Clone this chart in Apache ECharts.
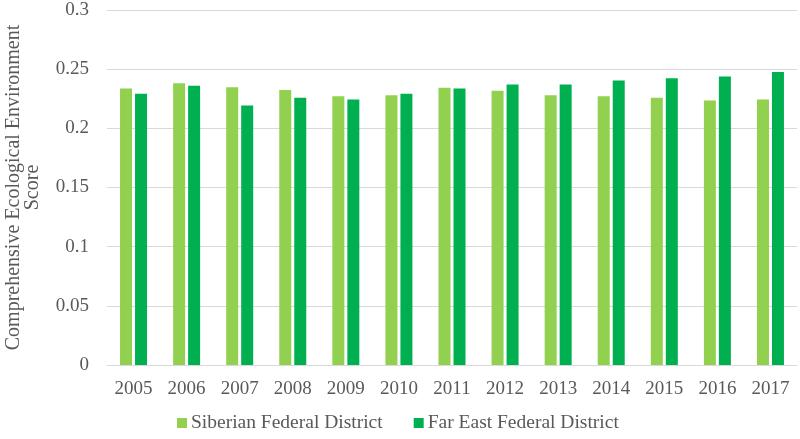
<!DOCTYPE html>
<html>
<head>
<meta charset="utf-8">
<script src="https://cdn.jsdelivr.net/npm/echarts@6/dist/echarts.min.js"></script>
<style>html,body{margin:0;padding:0;background:#fff}#c{width:800px;height:439px}</style>
</head>
<body>
<div id="c"></div>
<script>
const categories = ['2005','2006','2007','2008','2009','2010','2011','2012','2013','2014','2015','2016','2017'];
const siberian = [0.2337,0.2382,0.2348,0.2323,0.2272,0.2280,0.2342,0.2317,0.2280,0.2272,0.2258,0.2236,0.2244];
const farEast = [0.2292,0.2359,0.2193,0.2258,0.2244,0.2292,0.2337,0.2371,0.2371,0.2404,0.2424,0.2438,0.2477];
const seriesNames = ['Siberian Federal District','Far East Federal District'];
const yTitle = 'Comprehensive Ecological Environment\nScore';

const font = 'Liberation Serif';
const txt = '#595959';
const chart = echarts.init(document.getElementById('c'));
chart.setOption({
  animation: false,
  textStyle: {fontFamily: font},
  grid: {left: 107, right: 3, top: 10, bottom: 74, containLabel: false, outerBoundsMode: 'none'},
  legend: {
    bottom: 1, left: 172,
    itemWidth: 10, itemHeight: 10, itemGap: 31,
    icon: 'rect',
    textStyle: {fontFamily: font, fontSize: 19.5, color: txt, padding: [0,0,0,-1]},
    data: seriesNames
  },
  xAxis: {
    type: 'category', data: categories,
    axisLine: {lineStyle: {color: '#d9d9d9', width: 1}},
    axisTick: {show: false},
    axisLabel: {fontFamily: font, fontSize: 19, color: txt, margin: 15}
  },
  yAxis: {
    type: 'value', min: 0, max: 0.3, interval: 0.05,
    name: yTitle, nameLocation: 'middle', nameRotate: 90, nameGap: 65,
    nameTextStyle: {fontFamily: font, fontSize: 20, color: txt, lineHeight: 19},
    axisLine: {show: false}, axisTick: {show: false},
    axisLabel: {fontFamily: font, fontSize: 19, color: txt, margin: 18,
      formatter: v => String(Math.round(v*100)/100)},
    splitLine: {lineStyle: {color: '#d9d9d9', width: 1}}
  },
  series: [
    {name: seriesNames[0], type: 'bar', data: siberian, barWidth: 12, barGap: '25%',
      itemStyle: {color: '#92D050'}},
    {name: seriesNames[1], type: 'bar', data: farEast, barWidth: 12,
      itemStyle: {color: '#00B050'}}
  ]
});
</script>
</body>
</html>
